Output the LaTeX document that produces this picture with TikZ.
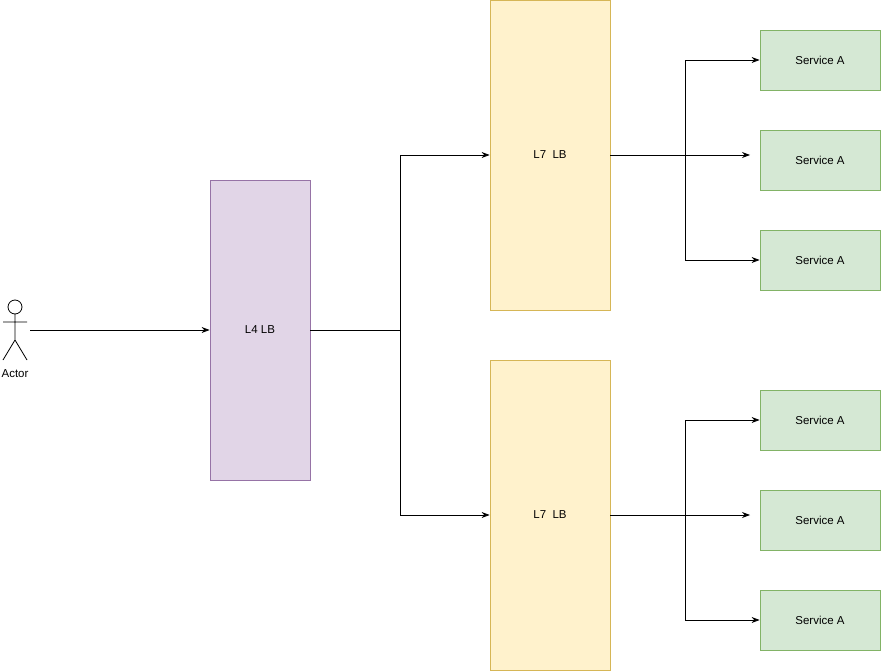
\documentclass[tikz,border=0pt]{standalone}
\usepackage{fontspec}
\setmainfont{Liberation Sans}
\usetikzlibrary{arrows.meta}
\definecolor{pf}{HTML}{E1D5E7}\definecolor{ps}{HTML}{9673A6}
\definecolor{yf}{HTML}{FFF2CC}\definecolor{ys}{HTML}{D6B656}
\definecolor{gf}{HTML}{D5E8D4}\definecolor{gs}{HTML}{82B366}
\begin{document}
\begin{tikzpicture}[x=1pt,y=-1pt,font=\fontsize{11.5}{13}\selectfont,
 box/.style={draw,line width=0.8pt,minimum width=#1,inner sep=0pt},
 svc/.style={box=120pt,minimum height=60pt,fill=gf,draw=gs},
 l7/.style={box=120pt,minimum height=310pt,fill=yf,draw=ys},
 arr/.style={-{Stealth[length=8pt,width=6pt]},line width=0.8pt}]
\useasboundingbox (0,0) rectangle (881,671);
% actor
\draw[line width=0.8pt] (15,307) circle (7);
\draw[line width=0.8pt] (15,314)--(15,340) (3,322)--(27,322) (3,360)--(15,340)--(27,360);
\node (actor) at (15,374) {Actor};
\coordinate (ao) at (30,330);
\node[box=100pt,minimum height=300pt,fill=pf,draw=ps] (l4) at (260,330) {L4 LB};
\node[l7] (t) at (550,155) {L7\ \ LB};
\node[l7] (b) at (550,515) {L7\ \ LB};
\foreach \n/\y in {s1/60,s2/160,s3/260,s4/420,s5/520,s6/620}
  \node[svc] (\n) at (820,\y) {Service A};
\coordinate (m1) at (750,155);
\coordinate (m2) at (750,515);
\draw[arr] (ao)--(l4.west);
\draw[arr] (l4.east)--(400,330)|-(t.west);
\draw[arr] (l4.east)--(400,330)|-(b.west);
\draw[arr] (t.east)--(m1);
\draw[arr] (t.east)--(685,155)|-(s1.west);
\draw[arr] (t.east)--(685,155)|-(s3.west);
\draw[arr] (b.east)--(m2);
\draw[arr] (b.east)--(685,515)|-(s4.west);
\draw[arr] (b.east)--(685,515)|-(s6.west);
\end{tikzpicture}
\end{document}
